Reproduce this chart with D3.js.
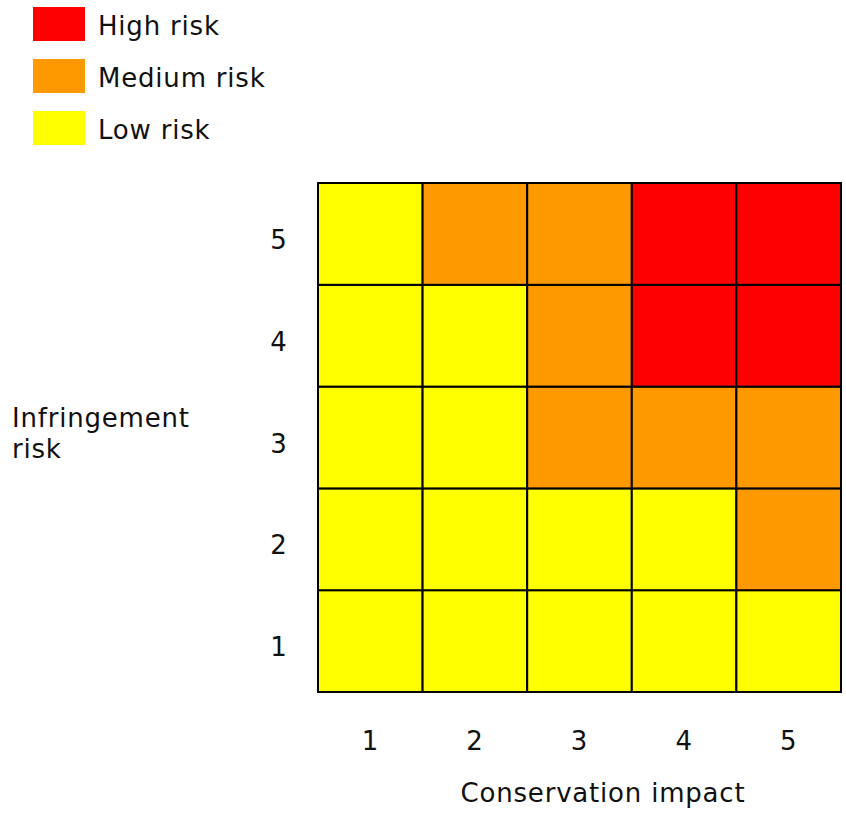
<!DOCTYPE html>
<html>
<head>
<meta charset="utf-8">
<script src="https://cdn.jsdelivr.net/npm/d3@7"></script>
<style>
  html, body { margin: 0; padding: 0; background: #fff; }
  svg { display: block; }
  text { font-family: "DejaVu Sans", Verdana, sans-serif; fill: #111; letter-spacing: 0.8px; }
</style>
</head>
<body>
<svg id="chart" width="846" height="825"></svg>
<script>
// Risk matrix: conservation impact (columns) vs infringement risk (rows)
const impactLevels = [1, 2, 3, 4, 5];
const infringementLevels = [1, 2, 3, 4, 5];
const riskCategories = ["High risk", "Medium risk", "Low risk"];
const riskColors = ["#ff0000", "#ff9900", "#ffff00"];
// Risk class per cell, rows listed from infringement 5 down to 1
const riskRow5 = ["Low risk", "Medium risk", "Medium risk", "High risk", "High risk"];
const riskRow4 = ["Low risk", "Low risk", "Medium risk", "High risk", "High risk"];
const riskRow3 = ["Low risk", "Low risk", "Medium risk", "Medium risk", "Medium risk"];
const riskRow2 = ["Low risk", "Low risk", "Low risk", "Low risk", "Medium risk"];
const riskRow1 = ["Low risk", "Low risk", "Low risk", "Low risk", "Low risk"];
const xTitle = "Conservation impact";
const yTitle = ["Infringement", "risk"];

const FONT_SIZE = 26;

const rowsByLevel = { 5: riskRow5, 4: riskRow4, 3: riskRow3, 2: riskRow2, 1: riskRow1 };
const cells = [];
infringementLevels.forEach(r => {
  impactLevels.forEach((c, i) => cells.push({ impact: c, infringement: r, risk: rowsByLevel[r][i] }));
});

const svg = d3.select("#chart");
const x = d3.scaleBand().domain(impactLevels).range([318, 841]);
const y = d3.scaleBand().domain(infringementLevels.slice().reverse()).range([183, 692]);
const color = d3.scaleOrdinal().domain(riskCategories).range(riskColors);

// Legend
const legend = svg.append("g");
const ly = d3.scalePoint().domain(riskCategories).range([7, 111]);
legend.selectAll("rect").data(riskCategories).join("rect")
  .attr("x", 33).attr("y", d => ly(d)).attr("width", 52).attr("height", 34)
  .attr("fill", d => color(d));
legend.selectAll("text").data(riskCategories).join("text")
  .attr("x", 98).attr("y", d => ly(d) + 28)
  .attr("font-size", FONT_SIZE)
  .text(d => d);

// Cells
svg.append("g").selectAll("rect").data(cells).join("rect")
  .attr("x", d => x(d.impact)).attr("y", d => y(d.infringement))
  .attr("width", x.bandwidth()).attr("height", y.bandwidth())
  .attr("fill", d => color(d.risk))
  .attr("stroke", "#000").attr("stroke-width", 2);

// Axes (labels only, no domain or tick lines)
const xAxis = svg.append("g").attr("transform", "translate(0,725)")
  .call(d3.axisBottom(x).tickSize(0).tickPadding(0));
xAxis.select(".domain").remove();
xAxis.selectAll("text").attr("font-size", FONT_SIZE).attr("font-family", "DejaVu Sans, Verdana, sans-serif")
  .attr("fill", "#111").attr("dy", "0.71em").attr("y", 7);

const yAxis = svg.append("g").attr("transform", "translate(279,0)")
  .call(d3.axisLeft(y).tickSize(0).tickPadding(0));
yAxis.select(".domain").remove();
yAxis.selectAll("text").attr("font-size", FONT_SIZE).attr("font-family", "DejaVu Sans, Verdana, sans-serif")
  .attr("fill", "#111").attr("text-anchor", "middle").attr("x", 0).attr("dy", "0.58em");

// Axis titles
svg.append("text").attr("x", 603).attr("y", 802).attr("text-anchor", "middle")
  .attr("font-size", FONT_SIZE).text(xTitle);
svg.append("text").attr("x", 12).attr("y", 427).attr("font-size", FONT_SIZE)
  .selectAll("tspan").data(yTitle).join("tspan")
  .attr("x", 12).attr("dy", (d, i) => i ? 31 : 0).text(d => d);
</script>
</body>
</html>
